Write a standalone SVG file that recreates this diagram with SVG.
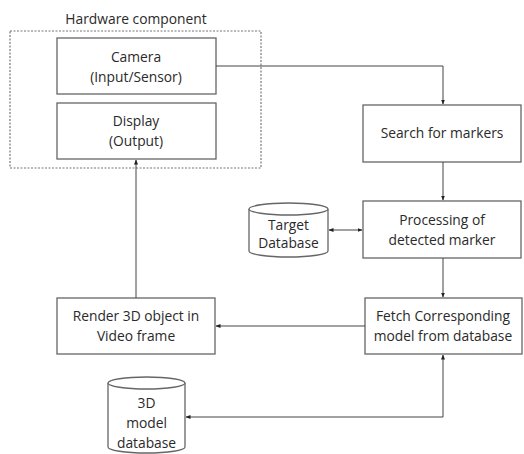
<svg xmlns="http://www.w3.org/2000/svg" width="524" height="454" viewBox="0 0 524 454">
<defs>
<marker id="ah" viewBox="0 0 10 10" refX="9" refY="5" markerWidth="5" markerHeight="5" orient="auto-start-reverse">
<path d="M0,1 L10,5 L0,9 z" fill="#222"/>
</marker>
<style>
.box{fill:#fff;stroke:#666;stroke-width:1.3}
.db{fill:#fff;stroke:#666;stroke-width:1.3}
.t{font-family:"Open Sans","Liberation Sans",sans-serif;font-size:13.8px;fill:#2a2a2a;text-anchor:middle}
.c{fill:none;stroke:#444;stroke-width:1}
.dash{fill:none;stroke:#777;stroke-width:1.2;stroke-dasharray:2 1.5}
</style>
</defs>
<rect width="524" height="454" fill="#fff"/>
<g id="hardware">
<rect class="dash" x="10" y="31" width="251" height="137"/>
<text class="t" x="136" y="24">Hardware component</text>
</g>
<g id="camera">
<rect class="box" x="57" y="38" width="159" height="56"/>
<text class="t" x="136" y="62">Camera</text>
<text class="t" x="136" y="82">(Input/Sensor)</text>
</g>
<g id="display">
<rect class="box" x="57" y="103" width="159" height="56"/>
<text class="t" x="136" y="126">Display</text>
<text class="t" x="136" y="146">(Output)</text>
</g>
<g id="search">
<rect class="box" x="363" y="105" width="158" height="57"/>
<text class="t" x="442" y="138">Search for markers</text>
</g>
<g id="processing">
<rect class="box" x="363" y="201" width="158" height="57"/>
<text class="t" x="442" y="225">Processing of</text>
<text class="t" x="442" y="245">detected marker</text>
</g>
<g id="fetch">
<rect class="box" x="365" y="298" width="157" height="56"/>
<text class="t" x="443" y="321">Fetch Corresponding</text>
<text class="t" x="443" y="341">model from database</text>
</g>
<g id="render">
<rect class="box" x="57" y="298" width="158" height="56"/>
<text class="t" x="136" y="321">Render 3D object in</text>
<text class="t" x="136" y="341">Video frame</text>
</g>
<g id="targetdb">
<path class="db" d="M249,209 L249,251 A39.5,6 0 0 0 328,251 L328,209"/>
<ellipse class="db" cx="288.5" cy="209" rx="39.5" ry="6"/>
<text class="t" x="288.5" y="230">Target</text>
<text class="t" x="288.5" y="248">Database</text>
</g>
<g id="modeldb">
<path class="db" d="M108,383 L108,447 A38.5,6 0 0 0 185,447 L185,383"/>
<ellipse class="db" cx="146.5" cy="383" rx="38.5" ry="6"/>
<text class="t" x="146.5" y="408">3D</text>
<text class="t" x="146.5" y="428">model</text>
<text class="t" x="146.5" y="448">database</text>
</g>
<g id="connectors">
<path class="c" d="M216,66 L443,66 L443,104" marker-end="url(#ah)"/>
<path class="c" d="M443,162 L443,200" marker-end="url(#ah)"/>
<path class="c" d="M329,230 L362,230" marker-start="url(#ah)" marker-end="url(#ah)"/>
<path class="c" d="M443,258 L443,297" marker-end="url(#ah)"/>
<path class="c" d="M365,326 L216,326" marker-end="url(#ah)"/>
<path class="c" d="M136,298 L136,160" marker-end="url(#ah)"/>
<path class="c" d="M186,417 L443,417 L443,355" marker-start="url(#ah)" marker-end="url(#ah)"/>
</g>
</svg>
